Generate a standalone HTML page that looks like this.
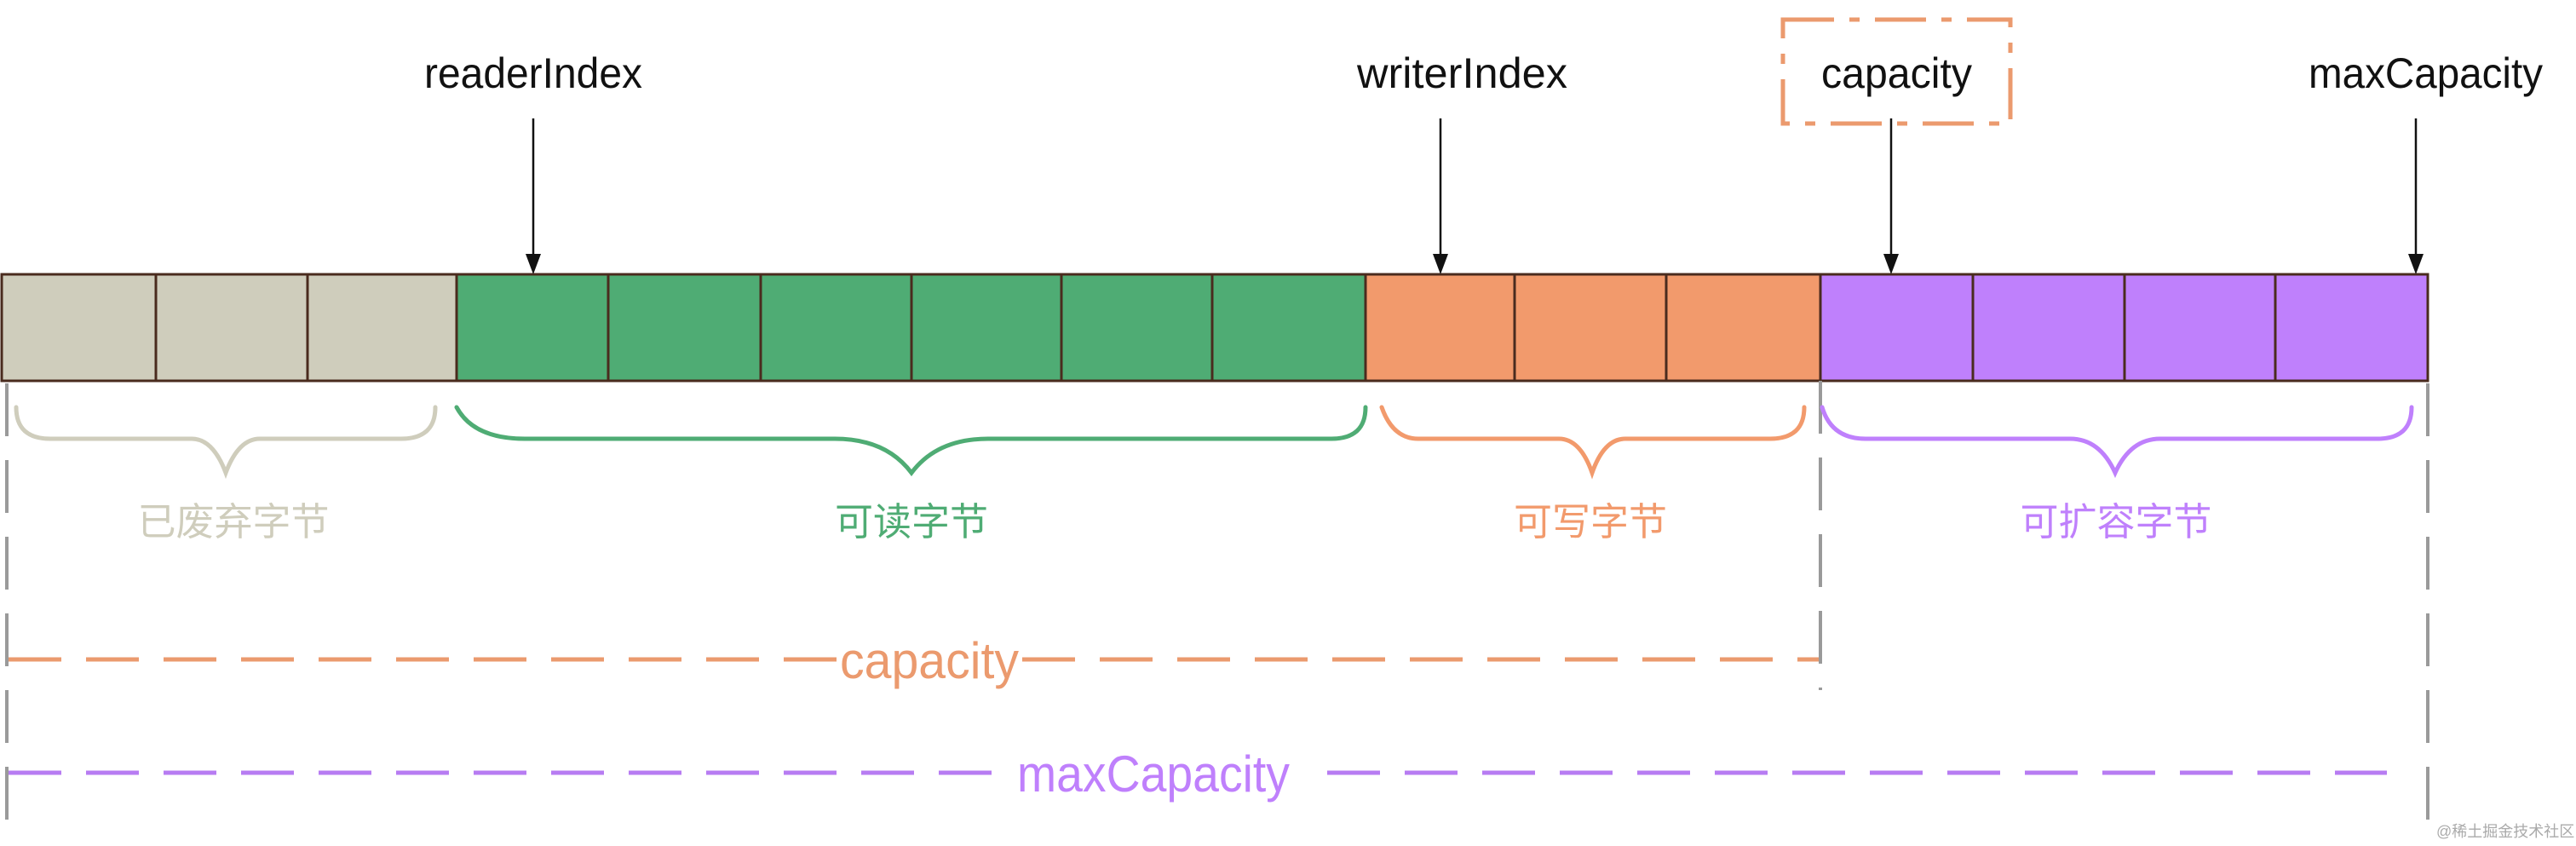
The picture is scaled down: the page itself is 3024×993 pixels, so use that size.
<!DOCTYPE html>
<html><head><meta charset="utf-8"><style>
html,body{margin:0;padding:0;background:#fff;}
svg{display:block;}
text{font-family:"Liberation Sans","Noto Sans CJK SC",sans-serif;}
</style></head><body>
<svg width="3024" height="993" viewBox="0 0 3024 993" xmlns="http://www.w3.org/2000/svg">
<!-- cells -->
<g stroke="#4a2b1e" stroke-width="3">
<rect x="2" y="322" width="181" height="125" fill="#cfcdbc"/>
<rect x="183" y="322" width="178" height="125" fill="#cfcdbc"/>
<rect x="361" y="322" width="175" height="125" fill="#cfcdbc"/>
<rect x="536" y="322" width="178" height="125" fill="#4fac74"/>
<rect x="714" y="322" width="179" height="125" fill="#4fac74"/>
<rect x="893" y="322" width="177" height="125" fill="#4fac74"/>
<rect x="1070" y="322" width="176" height="125" fill="#4fac74"/>
<rect x="1246" y="322" width="177" height="125" fill="#4fac74"/>
<rect x="1423" y="322" width="180" height="125" fill="#4fac74"/>
<rect x="1603" y="322" width="175" height="125" fill="#f29a6c"/>
<rect x="1778" y="322" width="178" height="125" fill="#f29a6c"/>
<rect x="1956" y="322" width="181" height="125" fill="#f29a6c"/>
<rect x="2137" y="322" width="179" height="125" fill="#bf80fc"/>
<rect x="2316" y="322" width="178" height="125" fill="#bf80fc"/>
<rect x="2494" y="322" width="177" height="125" fill="#bf80fc"/>
<rect x="2671" y="322" width="179" height="125" fill="#bf80fc"/>
</g>
<!-- arrows -->
<g stroke="#111" stroke-width="2.5">
<line x1="626" y1="139" x2="626" y2="302"/>
<line x1="1691" y1="139" x2="1691" y2="302"/>
<line x1="2220" y1="139" x2="2220" y2="302"/>
<line x1="2836" y1="139" x2="2836" y2="302"/>
</g>
<g fill="#111">
<polygon points="617,298 635,298 626,322"/>
<polygon points="1682,298 1700,298 1691,322"/>
<polygon points="2211,298 2229,298 2220,322"/>
<polygon points="2827,298 2845,298 2836,322"/>
</g>
<!-- top labels -->
<g fill="#111" font-size="50">
<text x="498" y="103" textLength="256" lengthAdjust="spacingAndGlyphs">readerIndex</text>
<text x="1593" y="103" textLength="247" lengthAdjust="spacingAndGlyphs">writerIndex</text>
<text x="2138" y="103" textLength="177" lengthAdjust="spacingAndGlyphs">capacity</text>
<text x="2710" y="103" textLength="275" lengthAdjust="spacingAndGlyphs">maxCapacity</text>
</g>
<!-- capacity dash-dot box -->
<rect x="2093" y="23" width="267" height="122" fill="none" stroke="#eb9a6e" stroke-width="5" stroke-dasharray="60,18,12,18"/>
<!-- vertical gray dashed -->
<g stroke="#9a9a9a" stroke-width="4" stroke-dasharray="62,28">
<line x1="8" y1="450" x2="8" y2="990"/>
<line x1="2137" y1="447" x2="2137" y2="810"/>
<line x1="2850" y1="450" x2="2850" y2="990"/>
</g>
<!-- braces -->
<g fill="none" stroke-width="5" stroke-linecap="round">
<path stroke="#cfcdbc" d="M19,478 Q19,515 59,515 L225,515 Q250,515 265,555 Q280,515 305,515 L471,515 Q511,515 511,478"/>
<path stroke="#4fac74" d="M536,478 Q556,515 616,515 L980,515 Q1040,515 1070,555 Q1100,515 1160,515 L1563,515 Q1603,515 1603,478"/>
<path stroke="#f29a6c" d="M1622,478 Q1635,515 1665,515 L1830,515 Q1855,515 1869,555 Q1883,515 1908,515 L2078,515 Q2118,515 2118,478"/>
<path stroke="#bf80fc" d="M2139,478 Q2150,515 2190,515 L2430,515 Q2465,515 2483,555 Q2501,515 2536,515 L2791,515 Q2831,515 2831,478"/>
</g>
<!-- brace labels -->
<g font-size="45" text-anchor="middle">
<text x="274" y="628" fill="#cfcdbc">已废弃字节</text>
<text x="1070" y="628" fill="#4fac74">可读字节</text>
<text x="1867" y="628" fill="#f29a6c">可写字节</text>
<text x="2484" y="628" fill="#bf80fc">可扩容字节</text>
</g>
<!-- capacity lines -->
<g stroke-width="5" stroke-dasharray="62,29">
<line x1="10" y1="774" x2="984" y2="774" stroke="#eb9a6e"/>
<line x1="1200" y1="774" x2="2135" y2="774" stroke="#eb9a6e"/>
<line x1="10" y1="907" x2="1170" y2="907" stroke="#b77cf2"/>
<line x1="1558" y1="907" x2="2802" y2="907" stroke="#b77cf2"/>
</g>
<text x="986" y="796" font-size="60" fill="#eb9a6e" textLength="210" lengthAdjust="spacingAndGlyphs">capacity</text>
<text x="1194" y="929" font-size="60" fill="#bf80fc" textLength="320" lengthAdjust="spacingAndGlyphs">maxCapacity</text>
<text x="2860" y="982" font-size="18" fill="#aaa">@稀土掘金技术社区</text>
</svg>
</body></html>
